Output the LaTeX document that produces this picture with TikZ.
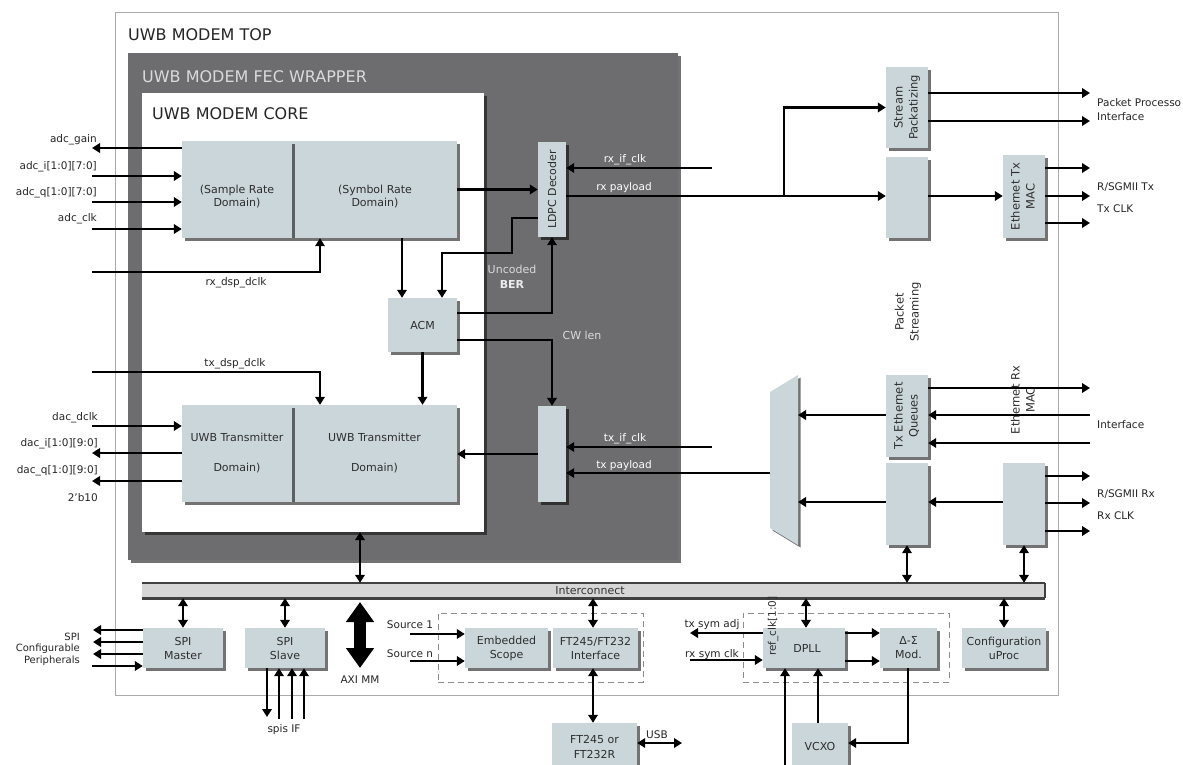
\documentclass[tikz,border=0pt]{standalone}
\usepackage{fontspec}
\setmainfont{DejaVu Sans}
\usetikzlibrary{arrows.meta,shadows,calc}
\definecolor{boxfill}{HTML}{CBD6DA}
\definecolor{wrapgray}{HTML}{6D6D70}
\definecolor{boxtext}{HTML}{2E2E2E}
\definecolor{wraptext}{HTML}{DADADA}
\definecolor{outerline}{HTML}{ABABAB}
\definecolor{icfill}{HTML}{D6D6D6}
\newcommand{\vtwo}[2]{\rotatebox{90}{\begin{tabular}{@{}c@{}}#1\\#2\end{tabular}}}
\begin{document}
\begin{tikzpicture}[x=1pt,y=-1pt,
  shad/.style={drop shadow={shadow xshift=2.5pt,shadow yshift=-2.5pt,opacity=0.55,fill=black}},
  blk/.style={fill=boxfill,inner sep=0pt,shad,text=boxtext,align=center,font=\fontsize{11}{14}\selectfont},
  btxt/.style={inner sep=0pt,text=boxtext,align=center,font=\fontsize{11}{13.5}\selectfont},
  rtxt/.style={font=\fontsize{11.5}{15}\selectfont},
  arr/.style={line width=2.3pt,-{Triangle[length=8pt,width=9.5pt]}},
  darr/.style={line width=2.3pt,{Triangle[length=8pt,width=9.5pt]}-{Triangle[length=8pt,width=9.5pt]}},
  fatarr/.style={line width=12pt,{Triangle[length=20pt,width=27pt]}-{Triangle[length=20pt,width=27pt]}},
  wire/.style={line width=2.3pt},
  lbl/.style={font=\fontsize{10.5}{13}\selectfont,text=black!85,inner sep=0pt},
  wlbl/.style={font=\fontsize{10.5}{13}\selectfont,text=white,inner sep=0pt},
  dlbl/.style={font=\fontsize{10.5}{13}\selectfont,text=black!85,inner sep=0pt},
  ttl/.style={font=\fontsize{16}{19}\selectfont,inner sep=0pt,anchor=west},
  dbox/.style={draw=black!45,line width=0.9pt,dash pattern=on 6pt off 4pt,inner sep=0pt},
]
\useasboundingbox (0,0) rectangle (1183,764);
\fill[white] (0,0) rectangle (1183,764);

% containers
\node[draw=outerline,line width=1pt,fill=white,minimum width=943pt,minimum height=683pt,inner sep=0pt] (top) at (586.5,353.5) {};
\node[ttl,text=black!85] (toptitle) at (128,35) {UWB MODEM TOP};
\node[fill=wrapgray,shad,minimum width=550pt,minimum height=507pt,inner sep=0pt] (wrap) at (403,306.5) {};
\node[ttl,text=wraptext] (wraptitle) at (142,77) {UWB MODEM FEC WRAPPER};
\node[fill=white,drop shadow={shadow xshift=3pt,shadow yshift=-3pt,opacity=0.5,fill=black},minimum width=342pt,minimum height=439pt,inner sep=0pt] (core) at (313,312.5) {};
\node[ttl,text=black!85] (coretitle) at (152,114) {UWB MODEM CORE};

% core blocks
\node[blk,minimum width=165pt,minimum height=97pt] (symb) at (374.5,189.5) {};
\node[blk,minimum width=110pt,minimum height=97pt] (samp) at (237,189.5) {};
\node[btxt] (sampT) at (237,196.5) {(Sample Rate\\Domain)};
\node[btxt] (symbT) at (375,196.5) {(Symbol Rate\\Domain)};
\node[blk,minimum width=69pt,minimum height=54pt] (acm) at (422.5,325) {ACM};
\node[blk,minimum width=165pt,minimum height=97pt] (uwbr) at (374.5,453.5) {UWB Transmitter\\[16pt]Domain)};
\node[blk,minimum width=110pt,minimum height=97pt] (uwbl) at (237,453.5) {UWB Transmitter\\[16pt]Domain)};

% FEC blocks
\node[blk,minimum width=28pt,minimum height=95pt] (ldpc) at (552,189.5) {\rotatebox{90}{LDPC Decoder}};
\node[blk,minimum width=28pt,minimum height=96pt] (txfec) at (552,454) {};

% right side blocks
\node[blk,rtxt,minimum width=42pt,minimum height=81pt] (stream) at (907,107.5) {\vtwo{Stream}{Packatizing}};
\node[blk,minimum width=42pt,minimum height=81pt] (blank1) at (907,197.5) {};
\node[blk,rtxt,minimum width=42pt,minimum height=83pt] (etx) at (1024,196.5) {\vtwo{Ethernet Tx}{MAC}};
\node[blk,rtxt,minimum width=42pt,minimum height=82pt] (txq) at (907,416) {\vtwo{Tx Ethernet}{Queues}};
\node[blk,minimum width=42pt,minimum height=82pt] (blank2) at (907,504) {};
\node[blk,minimum width=42pt,minimum height=82pt] (erx) at (1024,504) {};
\node[rtxt,text=boxtext,inner sep=0pt] (pstream) at (908,312) {\vtwo{Packet}{Streaming}};
\node[rtxt,text=boxtext,inner sep=0pt] (erxlab) at (1024,400) {\vtwo{Ethernet Rx}{MAC}};

% mux
\path[fill=boxfill,shad] (770,392) -- (798,375) -- (798,545) -- (770,528) -- cycle;
\coordinate (muxL) at (770,473);
\coordinate (muxR1) at (798,415);
\coordinate (muxR2) at (798,502);

% interconnect
\node[fill=icfill,inner sep=0pt,minimum width=903pt,minimum height=15pt] (ic) at (593.5,590.5) {};
\draw[black!75,line width=2pt] (ic.north west) -- (ic.north east);
\draw[black!75,line width=3pt] (ic.south west) -- (ic.south east);
\draw[black!75,line width=2pt] (ic.north east) -- (ic.south east);
\node[font=\fontsize{11}{13}\selectfont,text=black!80,inner sep=0pt] (iclab) at (590,591) {Interconnect};

% dashed groups
\node[dbox,minimum width=205pt,minimum height=69pt] (dash1) at (540.5,647.5) {};
\node[dbox,minimum width=206pt,minimum height=69pt] (dash2) at (846,647.5) {};

% bottom blocks
\node[blk,minimum width=80pt,minimum height=40pt] (spim) at (183,648) {SPI\\Master};
\node[blk,minimum width=80pt,minimum height=40pt] (spis) at (285,648) {SPI\\Slave};
\node[blk,minimum width=83pt,minimum height=40pt] (scope) at (506.5,648) {Embedded\\Scope};
\node[blk,minimum width=85pt,minimum height=40pt] (ftif) at (595.5,648) {FT245/FT232\\Interface};
\node[blk,minimum width=85pt,minimum height=48pt,font=\fontsize{11}{15}\selectfont] (ftchip) at (594.5,747) {FT245 or\\FT232R};
\node[blk,minimum width=82pt,minimum height=40pt] (dpll) at (804,648) {\hspace*{6pt}DPLL};
\node[blk,minimum width=57pt,minimum height=40pt] (dsm) at (908.5,648) {Δ-Σ\\Mod.};
\node[blk,minimum width=84pt,minimum height=40pt] (cfg) at (1004,648) {Configuration\\uProc};
\node[blk,minimum width=56pt,minimum height=47pt] (vcxo) at (820,746.5) {VCXO};
\node[lbl,text=boxtext] (refclk) at (773,626) {\rotatebox{90}{ref\_clk[1:0]}};

% ---- connectors: left ADC/DAC ----
\coordinate (pGain) at (92,148);
\coordinate (pAdcI) at (92,176);
\coordinate (pAdcQ) at (92,202);
\coordinate (pAdcClk) at (92,229);
\draw[arr] (samp.west |- pGain) -- (pGain);
\draw[arr] (pAdcI) -- (samp.west |- pAdcI);
\draw[arr] (pAdcQ) -- (samp.west |- pAdcQ);
\draw[arr] (pAdcClk) -- (samp.west |- pAdcClk);
\node[lbl,anchor=base east] (lGain) at (97,142) {adc\_gain};
\node[lbl,anchor=base east] (lAdcI) at (97,169) {adc\_i[1:0][7:0]};
\node[lbl,anchor=base east] (lAdcQ) at (97,195) {adc\_q[1:0][7:0]};
\node[lbl,anchor=base east] (lAdcClk) at (97,221) {adc\_clk};

\coordinate (pRxD0) at (92,272);
\coordinate (pRxD1) at (320,272);
\draw[arr] (pRxD0) -- (pRxD1) -- (symb.south -| pRxD1);
\node[lbl,anchor=base] (lRxD) at (236,285) {rx\_dsp\_dclk};

\coordinate (pTxD0) at (92,372);
\coordinate (pTxD1) at (320,372);
\draw[arr] (pTxD0) -- (pTxD1) -- (uwbr.north -| pTxD1);
\node[lbl,anchor=base] (lTxD) at (235,366) {tx\_dsp\_dclk};

\coordinate (pDacClk) at (92,426);
\coordinate (pDacI) at (92,453);
\coordinate (pDacQ) at (92,481);
\draw[arr] (pDacClk) -- (uwbl.west |- pDacClk);
\draw[arr] (uwbl.west |- pDacI) -- (pDacI);
\draw[arr] (uwbl.west |- pDacQ) -- (pDacQ);
\node[lbl,anchor=base east] (lDacClk) at (98,420) {dac\_dclk};
\node[lbl,anchor=base east] (lDacI) at (98,446) {dac\_i[1:0][9:0]};
\node[lbl,anchor=base east] (lDacQ) at (98,473) {dac\_q[1:0][9:0]};
\node[lbl,anchor=base east] (l2b) at (98,501) {2'b10};

% ---- core / FEC internal ----
\draw[arr] (symb.east) -- (ldpc.west);
\coordinate (pSA) at (402,260);
\draw[arr] (symb.south -| pSA) -- (acm.north -| pSA);
\coordinate (pUB1) at (512,218);
\coordinate (pUB2) at (512,253);
\coordinate (pUB3) at (442,253);
\draw[arr] (ldpc.west |- pUB1) -- (pUB1) -- (pUB2) -- (pUB3) -- (acm.north -| pUB3);
\coordinate (pAL) at (552,313);
\draw[arr] (acm.east |- pAL) -- (pAL) -- (ldpc.south);
\coordinate (pCW) at (552,340);
\draw[arr] (acm.east |- pCW) -- (pCW) -- (txfec.north);
\draw[arr] (acm.south) -- (uwbr.north -| acm.south);
\draw[arr] (txfec.west) -- (uwbr.east |- txfec.west);
\node[font=\fontsize{11}{13}\selectfont,text=wraptext,inner sep=0pt,anchor=base] (lUnc) at (512,273) {Uncoded};
\node[font=\bfseries\fontsize{11}{13}\selectfont,text=white!92!black,inner sep=0pt,anchor=base] (lBER) at (512,288) {BER};
\node[font=\fontsize{11}{13}\selectfont,text=wraptext,inner sep=0pt,anchor=base] (lCW) at (582,339) {CW len};

% rx/tx interfaces
\coordinate (pRxIf) at (712,168);
\draw[arr] (pRxIf) -- (ldpc.east |- pRxIf);
\node[wlbl,anchor=base] (lRxIf) at (625,162) {rx\_if\_clk};
\coordinate (pBr) at (784,196);
\draw[wire] (ldpc.east |- pBr) -- (pBr);
\node[wlbl,anchor=base] (lRxPay) at (624,190) {rx payload};
\draw[arr] (pBr) |- (stream.west);
\draw[arr] (pBr) -- (blank1.west |- pBr);
\draw[arr] (blank1.east |- pBr) -- (etx.west |- pBr);

\coordinate (pTxIf) at (712,447);
\draw[arr] (pTxIf) -- (txfec.east |- pTxIf);
\node[wlbl,anchor=base] (lTxIf) at (625,441) {tx\_if\_clk};
\draw[arr] (muxL) -- (txfec.east |- muxL);
\node[wlbl,anchor=base] (lTxPay) at (624,468) {tx payload};

% right outputs
\coordinate (pPP1) at (1090,93);
\coordinate (pPP2) at (1090,121);
\draw[arr] (stream.east |- pPP1) -- (pPP1);
\draw[arr] (stream.east |- pPP2) -- (pPP2);
\node[lbl,anchor=base west] (lPP) at (1097,106) {Packet Processo};
\node[lbl,anchor=base west] (lIf1) at (1097,120) {Interface};
\coordinate (pET1) at (1090,168);
\coordinate (pET2) at (1090,196);
\coordinate (pET3) at (1090,223);
\draw[arr] (etx.east |- pET1) -- (pET1);
\draw[arr] (etx.east |- pET2) -- (pET2);
\draw[arr] (etx.east |- pET3) -- (pET3);
\node[lbl,anchor=base west] (lSgTx) at (1097,190) {R/SGMII Tx};
\node[lbl,anchor=base west] (lTxClk) at (1097,212) {Tx CLK};

\coordinate (pQ1) at (1090,388);
\coordinate (pQ2) at (1090,415);
\coordinate (pQ3) at (1090,443);
\draw[arr] (txq.east |- pQ1) -- (pQ1);
\draw[arr] (pQ2) -- (txq.east |- pQ2);
\draw[arr] (pQ3) -- (txq.east |- pQ3);
\node[lbl,anchor=base west] (lIf2) at (1097,428) {Interface};
\draw[arr] (txq.west |- muxR1) -- (muxR1);
\draw[arr] (blank2.west |- muxR2) -- (muxR2);
\draw[arr] (erx.west |- muxR2) -- (blank2.east |- muxR2);
\coordinate (pER1) at (1090,476);
\coordinate (pER2) at (1090,503);
\coordinate (pER3) at (1090,531);
\draw[arr] (erx.east |- pER1) -- (pER1);
\draw[arr] (erx.east |- pER2) -- (pER2);
\draw[arr] (erx.east |- pER3) -- (pER3);
\node[lbl,anchor=base west] (lSgRx) at (1097,497) {R/SGMII Rx};
\node[lbl,anchor=base west] (lRxClk) at (1097,519) {Rx CLK};

% interconnect links
\coordinate (pCore) at (360,550);
\draw[darr] (core.south -| pCore) -- (ic.north -| pCore);
\draw[darr] (blank2.south) -- (ic.north -| blank2.south);
\draw[darr] (erx.south) -- (ic.north -| erx.south);
\draw[darr] (ic.south -| spim.north) -- (spim.north);
\draw[darr] (ic.south -| spis.north) -- (spis.north);
\coordinate (pFt) at (593,610);
\draw[darr] (ic.south -| pFt) -- (ftif.north -| pFt);
\coordinate (pDp) at (806,610);
\draw[darr] (ic.south -| pDp) -- (dpll.north -| pDp);
\draw[darr] (ic.south -| cfg.north) -- (cfg.north);
\coordinate (pAxiT) at (360,602);
\coordinate (pAxiB) at (360,668);
\draw[fatarr] (pAxiT) -- (pAxiB);
\node[dlbl,anchor=base] (lAxi) at (360,683) {AXI MM};

% SPI
\coordinate (pS1) at (93,630);
\coordinate (pS2) at (93,642);
\coordinate (pS3) at (93,654);
\coordinate (pS4) at (92,666);
\draw[arr] (spim.west |- pS1) -- (pS1);
\draw[arr] (spim.west |- pS2) -- (pS2);
\draw[arr] (spim.west |- pS3) -- (pS3);
\draw[arr] (pS4) -- (spim.west |- pS4);
\node[lbl,anchor=east,align=right,font=\fontsize{10}{11.5}\selectfont] (lSpi) at (80,649) {SPI\\Configurable\\Peripherals};
\coordinate (pSs1) at (267,717);
\coordinate (pSs2) at (279,719);
\coordinate (pSs3) at (292,719);
\coordinate (pSs4) at (304,719);
\draw[arr] (spis.south -| pSs1) -- (pSs1);
\draw[arr] (pSs2) -- (spis.south -| pSs2);
\draw[arr] (pSs3) -- (spis.south -| pSs3);
\draw[arr] (pSs4) -- (spis.south -| pSs4);
\node[dlbl,anchor=base] (lSpis) at (284,732) {spis IF};

% scope / FT
\coordinate (pSrc1) at (410,634);
\coordinate (pSrcN) at (410,661);
\draw[arr] (pSrc1) -- (scope.west |- pSrc1);
\draw[arr] (pSrcN) -- (scope.west |- pSrcN);
\node[dlbl,anchor=base] (lSrc1) at (410,628) {Source 1};
\node[dlbl,anchor=base] (lSrcN) at (410,657) {Source n};
\draw[darr] (ftif.south -| pFt) -- (ftchip.north -| pFt);
\coordinate (pUsb) at (682,743);
\draw[darr] (ftchip.east |- pUsb) -- (pUsb);
\node[dlbl,anchor=base] (lUsb) at (657,738) {USB};

% DPLL group
\draw[arr] ($(dpll.east)+(0,-15)$) -- ($(dsm.west)+(0,-15)$);
\draw[arr] ($(dpll.east)+(0,13)$) -- ($(dsm.west)+(0,13)$);
\coordinate (pTsa) at (690,633);
\coordinate (pRsc) at (690,660);
\draw[arr] (dpll.west |- pTsa) -- (pTsa);
\draw[arr] (pRsc) -- (dpll.west |- pRsc);
\node[lbl,anchor=base] (lTsa) at (712,627) {tx sym adj};
\node[lbl,anchor=base] (lRsc) at (712,657) {rx sym clk};
\coordinate (pRef) at (785,770);
\draw[arr] (pRef) -- (dpll.south -| pRef);
\coordinate (pVx) at (818,700);
\draw[arr] (vcxo.north -| pVx) -- (dpll.south -| pVx);
\coordinate (pDv) at (908,743);
\draw[arr] (dsm.south -| pDv) -- (pDv) -- (vcxo.east |- pDv);
\end{tikzpicture}
\end{document}
